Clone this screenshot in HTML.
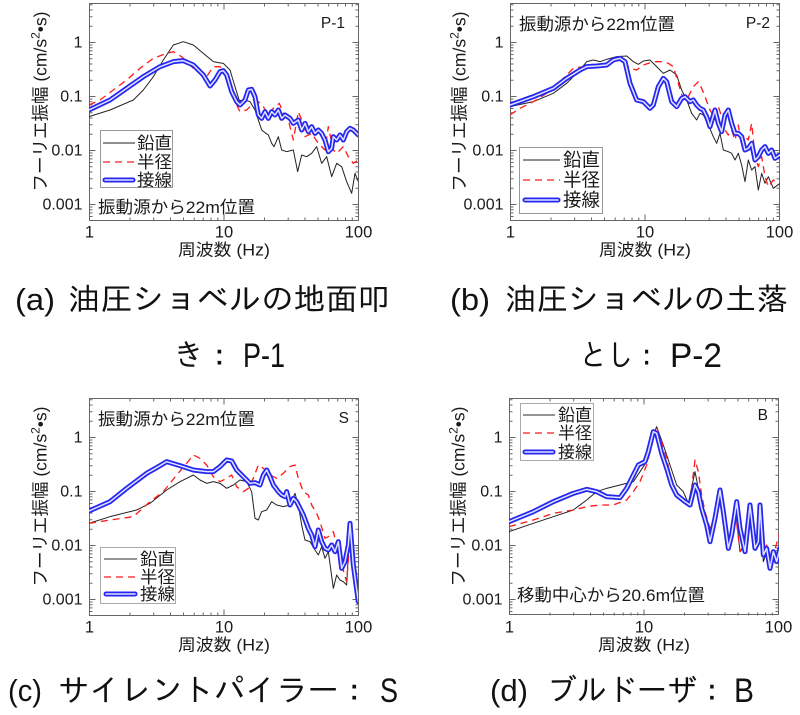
<!DOCTYPE html>
<html><head><meta charset="utf-8"><style>
html,body{margin:0;padding:0;background:#fff;}
svg{display:block;}
</style></head><body>
<svg width="800" height="715" viewBox="0 0 800 715" xmlns="http://www.w3.org/2000/svg">
<defs>
<path id="tk" fill="none" stroke="#666" stroke-width="1" d="M0 201h6M0 147h6M0 93h6M0 39h6M0 213h3M0 209.4h3M0 206.2h3M0 203.5h3M0 184.7h3M0 175.2h3M0 168.5h3M0 163.3h3M0 159h3M0 155.4h3M0 152.2h3M0 149.5h3M0 130.7h3M0 121.2h3M0 114.5h3M0 109.3h3M0 105h3M0 101.4h3M0 98.2h3M0 95.5h3M0 76.7h3M0 67.2h3M0 60.5h3M0 55.3h3M0 51h3M0 47.4h3M0 44.2h3M0 41.5h3M0 22.7h3M0 13.2h3M0 6.5h3M0 1.3h3
M269 201h-6M269 147h-6M269 93h-6M269 39h-6M269 213h-3M269 209.4h-3M269 206.2h-3M269 203.5h-3M269 184.7h-3M269 175.2h-3M269 168.5h-3M269 163.3h-3M269 159h-3M269 155.4h-3M269 152.2h-3M269 149.5h-3M269 130.7h-3M269 121.2h-3M269 114.5h-3M269 109.3h-3M269 105h-3M269 101.4h-3M269 98.2h-3M269 95.5h-3M269 76.7h-3M269 67.2h-3M269 60.5h-3M269 55.3h-3M269 51h-3M269 47.4h-3M269 44.2h-3M269 41.5h-3M269 22.7h-3M269 13.2h-3M269 6.5h-3M269 1.3h-3
M134.5 217v-6M40.5 217v-3M64.2 217v-3M81 217v-3M94 217v-3M104.7 217v-3M113.7 217v-3M121.5 217v-3M128.3 217v-3M175 217v-3M198.7 217v-3M215.5 217v-3M228.5 217v-3M239.2 217v-3M248.2 217v-3M256 217v-3M262.8 217v-3
M134.5 0v6M40.5 0v3M64.2 0v3M81 0v3M94 0v3M104.7 0v3M113.7 0v3M121.5 0v3M128.3 0v3M175 0v3M198.7 0v3M215.5 0v3M228.5 0v3M239.2 0v3M248.2 0v3M256 0v3M262.8 0v3"/>
<clipPath id="c1"><rect x="89" y="3" width="269" height="217"/></clipPath>
<clipPath id="c2"><rect x="510" y="3" width="270" height="217"/></clipPath>
<clipPath id="c3"><rect x="89" y="398" width="269" height="217"/></clipPath>
<clipPath id="c4"><rect x="509" y="398" width="270" height="216"/></clipPath>
<polyline id="b1" points="267,330 330,300 380,265 430,230 480,200 520,185 550,182 580,195 610,225 630,258 645,240 660,215 670,212 680,225 695,275 710,305 720,315 735,300 745,270 755,268 765,290 775,345 785,355 795,335 805,355 815,335 825,345 835,330 845,355 855,345 870,355 880,370 895,360 905,390 915,370 925,395 935,380 945,400 955,390 965,400 975,420 985,455 995,445 1000,410 1010,420 1020,405 1030,420 1040,395 1050,385 1060,390 1075,405"/>
<polyline id="b2" points="330,315 400,290 460,265 500,235 540,210 560,200 590,198 620,195 640,180 660,175 675,185 690,250 710,300 730,305 750,325 760,315 775,260 790,235 800,245 815,305 830,320 845,295 855,290 870,305 880,300 890,315 900,325 910,330 920,350 930,380 945,330 955,370 965,395 975,345 985,330 995,370 1005,400 1015,400 1025,410 1035,450 1045,445 1055,430 1065,480 1075,470 1085,450 1095,440 1105,460 1115,450 1125,475 1140,465"/>
<polyline id="b3" points="267,348 330,320 380,280 440,235 480,212 500,200 540,212 580,225 620,230 640,230 660,215 680,195 695,198 710,225 730,245 750,265 765,263 780,270 790,240 800,225 810,245 820,270 835,290 845,300 855,305 860,290 870,330 880,310 890,320 900,340 910,360 925,400 935,420 945,455 955,405 965,440 975,460 985,465 995,450 1005,470 1015,440 1025,520 1035,500 1045,450 1050,385 1060,510 1075,620"/>
<polyline id="b4" points="327,380 400,350 460,320 520,295 560,283 590,290 620,305 660,308 680,280 700,240 715,210 735,200 745,170 760,110 770,115 785,175 800,220 815,270 830,300 855,320 870,330 885,270 895,290 905,340 920,390 930,440 945,370 960,285 970,350 985,460 995,420 1010,320 1020,400 1035,470 1050,330 1065,460 1075,440 1080,330 1090,480 1100,460 1110,520 1120,470 1130,500 1140,460"/>
</defs>

<g font-family="'Liberation Sans','Noto Sans CJK JP',sans-serif" fill="#1a1a1a">

<!-- ===== Panel 1 frame ===== -->
<g transform="translate(89.5,3.5)">
<rect x="0" y="0" width="269" height="217" fill="none" stroke="#666" stroke-width="1"/>
<use href="#tk"/>
<g font-size="16" text-anchor="end">
<text x="-7" y="44">1</text><text x="-7" y="98">0.1</text><text x="-7" y="152">0.01</text><text x="-7" y="206">0.001</text>
</g>
<g font-size="16.5" text-anchor="middle">
<text x="0" y="234">1</text><text x="134.5" y="234">10</text><text x="269" y="234">100</text>
<text x="134.5" y="252" textLength="92" lengthAdjust="spacingAndGlyphs">周波数 (Hz)</text>
</g>
<text font-size="17.5" text-anchor="middle" transform="translate(-43,98) rotate(-90)">フーリエ振幅 (cm/s<tspan font-size="12" dy="-7">2</tspan><tspan dy="7">•s)</tspan></text>
</g>
<!-- ===== Panel 2 frame ===== -->
<g transform="translate(510.5,3.5)">
<rect x="0" y="0" width="269" height="217" fill="none" stroke="#666" stroke-width="1"/>
<use href="#tk"/>
<g font-size="16" text-anchor="end">
<text x="-7" y="44">1</text><text x="-7" y="98">0.1</text><text x="-7" y="152">0.01</text><text x="-7" y="206">0.001</text>
</g>
<g font-size="16.5" text-anchor="middle">
<text x="0" y="234">1</text><text x="134.5" y="234">10</text><text x="269" y="234">100</text>
<text x="134.5" y="252" textLength="92" lengthAdjust="spacingAndGlyphs">周波数 (Hz)</text>
</g>
<text font-size="17.5" text-anchor="middle" transform="translate(-45,98) rotate(-90)">フーリエ振幅 (cm/s<tspan font-size="12" dy="-7">2</tspan><tspan dy="7">•s)</tspan></text>
</g>
<!-- ===== Panel 3 frame ===== -->
<g transform="translate(89.5,398.5)">
<rect x="0" y="0" width="269" height="217" fill="none" stroke="#666" stroke-width="1"/>
<use href="#tk"/>
<g font-size="16" text-anchor="end">
<text x="-7" y="44">1</text><text x="-7" y="98">0.1</text><text x="-7" y="152">0.01</text><text x="-7" y="206">0.001</text>
</g>
<g font-size="16.5" text-anchor="middle">
<text x="0" y="234">1</text><text x="134.5" y="234">10</text><text x="269" y="234">100</text>
<text x="134.5" y="252" textLength="92" lengthAdjust="spacingAndGlyphs">周波数 (Hz)</text>
</g>
<text font-size="17.5" text-anchor="middle" transform="translate(-43,98) rotate(-90)">フーリエ振幅 (cm/s<tspan font-size="12" dy="-7">2</tspan><tspan dy="7">•s)</tspan></text>
</g>
<!-- ===== Panel 4 frame ===== -->
<g transform="translate(509.5,398.5)">
<rect x="0" y="0" width="269" height="216" fill="none" stroke="#666" stroke-width="1"/>
<use href="#tk"/>
<g font-size="16" text-anchor="end">
<text x="-7" y="44">1</text><text x="-7" y="98">0.1</text><text x="-7" y="152">0.01</text><text x="-7" y="206">0.001</text>
</g>
<g font-size="16.5" text-anchor="middle">
<text x="0" y="234">1</text><text x="134.5" y="234">10</text><text x="269" y="234">100</text>
<text x="134.5" y="252" textLength="92" lengthAdjust="spacingAndGlyphs">周波数 (Hz)</text>
</g>
<text font-size="17.5" text-anchor="middle" transform="translate(-45,98) rotate(-90)">フーリエ振幅 (cm/s<tspan font-size="12" dy="-7">2</tspan><tspan dy="7">•s)</tspan></text>
</g>

<!-- ===== Panel 1 curves ===== -->
<g clip-path="url(#c1)"><g transform="scale(0.33333)" fill="none" stroke-linejoin="round" stroke-linecap="round">
<polyline stroke="#222" stroke-width="3" points="267,350 330,330 400,300 430,270 460,230 490,180 520,135 550,125 580,135 610,160 640,185 655,188 670,190 690,210 705,260 718,302 735,300 750,305 765,330 775,360 785,390 795,398 805,405 815,430 822,440 835,410 845,450 860,455 880,450 893,515 905,465 920,470 935,460 950,440 965,490 980,470 995,530 1010,490 1025,500 1040,545 1055,580 1065,520 1075,545"/>
<polyline stroke="#ff1a1a" stroke-width="4" stroke-dasharray="21 15" stroke-linecap="butt" points="267,315 300,300 340,270 380,240 420,205 460,175 500,160 520,155 545,170 565,190 580,205 600,215 620,230 640,200 660,200 675,215 690,260 710,315 720,335 740,330 760,310 775,305 790,320 805,345 820,325 838,310 850,340 865,360 880,420 895,335 905,360 915,410 935,400 955,430 975,450 985,380 1000,450 1010,460 1030,440 1045,470 1060,490 1075,480"/>
<use href="#b1" stroke="#2626f0" stroke-width="15"/>
<use href="#b1" stroke="#dfe4ff" stroke-width="4.5"/>
</g></g>

<!-- ===== Panel 2 curves ===== -->
<g clip-path="url(#c2)"><g transform="translate(400,0) scale(0.33333)" fill="none" stroke-linejoin="round" stroke-linecap="round">
<polyline stroke="#222" stroke-width="3" points="330,320 400,305 460,280 500,250 540,210 560,185 580,180 600,185 620,178 650,170 680,168 700,185 715,193 730,183 750,180 770,200 790,220 810,210 830,225 845,270 860,300 875,340 890,360 900,340 910,345 925,375 940,410 950,430 960,400 970,450 985,455 995,460 1005,480 1015,460 1025,495 1035,545 1045,480 1055,510 1065,500 1075,570 1085,520 1095,550 1105,530 1120,565 1140,550"/>
<polyline stroke="#ff1a1a" stroke-width="4" stroke-dasharray="21 15" stroke-linecap="butt" points="330,345 360,325 400,305 440,280 480,245 520,205 550,200 570,195 600,200 620,190 650,180 670,185 690,205 710,210 730,195 760,185 790,185 805,190 820,200 835,250 850,300 865,290 880,260 895,245 905,265 915,290 930,330 945,355 955,320 965,350 975,390 985,405 995,390 1005,420 1015,375 1025,440 1035,410 1045,420 1055,370 1065,470 1075,500 1085,470 1095,530 1105,560 1120,540 1140,550"/>
<use href="#b2" stroke="#2626f0" stroke-width="15"/>
<use href="#b2" stroke="#dfe4ff" stroke-width="4.5"/>
</g></g>

<!-- ===== Panel 3 curves ===== -->
<g clip-path="url(#c3)"><g transform="translate(0,395) scale(0.33333)" fill="none" stroke-linejoin="round" stroke-linecap="round">
<polyline stroke="#222" stroke-width="3" points="267,385 330,365 410,345 450,325 500,285 540,260 580,240 600,255 620,265 640,260 660,265 680,280 700,270 720,255 740,260 755,290 765,370 775,375 785,350 800,345 815,320 830,330 850,335 870,330 885,295 895,330 905,390 915,435 930,440 945,465 955,480 965,455 975,490 985,470 1000,580 1010,540 1020,555 1030,560 1040,570 1050,390 1060,520 1075,625"/>
<polyline stroke="#ff1a1a" stroke-width="4" stroke-dasharray="21 15" stroke-linecap="butt" points="267,385 330,375 400,365 450,320 490,290 530,240 560,205 580,180 600,190 620,210 640,245 660,260 680,250 695,240 710,275 730,290 745,280 760,250 775,210 790,220 810,240 830,250 850,235 870,215 885,210 895,250 910,290 925,300 935,330 950,355 960,380 975,430 985,425 1000,410 1010,450 1025,510 1040,560 1050,430 1060,510 1075,630"/>
<use href="#b3" stroke="#2626f0" stroke-width="15"/>
<use href="#b3" stroke="#dfe4ff" stroke-width="4.5"/>
</g></g>

<!-- ===== Panel 4 curves ===== -->
<g clip-path="url(#c4)"><g transform="translate(400,395) scale(0.33333)" fill="none" stroke-linejoin="round" stroke-linecap="round">
<polyline stroke="#222" stroke-width="3" points="327,410 400,385 460,365 520,345 560,315 590,290 620,280 660,270 700,260 720,230 740,200 755,130 770,95 790,150 810,210 830,270 850,290 865,325 885,230 895,280 905,350 920,400 930,430 945,360 955,295 965,340 980,460 990,450 1005,330 1020,470 1040,440 1050,340 1060,460 1075,410 1080,330 1090,500 1100,470 1110,520 1120,470 1130,500 1140,480"/>
<polyline stroke="#ff1a1a" stroke-width="4" stroke-dasharray="21 15" stroke-linecap="butt" points="327,395 400,375 460,355 520,345 560,335 600,330 640,330 680,315 700,290 720,260 740,210 755,150 770,95 785,140 800,190 815,260 830,300 850,320 870,320 885,195 895,230 905,300 915,350 930,400 945,360 955,290 965,320 985,440 995,430 1005,340 1020,470 1040,450 1050,330 1065,450 1075,440 1080,330 1090,480 1100,450 1110,500 1120,480 1140,410"/>
<use href="#b4" stroke="#2626f0" stroke-width="15"/>
<use href="#b4" stroke="#dfe4ff" stroke-width="4.5"/>
</g></g>

<!-- ===== Annotations ===== -->
<text x="345" y="28" font-size="15.5" text-anchor="end">P-1</text>
<text x="98" y="213" font-size="17" textLength="157" lengthAdjust="spacingAndGlyphs">振動源から22m位置</text>
<text x="519" y="30" font-size="17" textLength="156" lengthAdjust="spacingAndGlyphs">振動源から22m位置</text>
<text x="770" y="28" font-size="15.5" text-anchor="end">P-2</text>
<text x="98" y="425" font-size="17" textLength="157" lengthAdjust="spacingAndGlyphs">振動源から22m位置</text>
<text x="349" y="423" font-size="15.5" text-anchor="end">S</text>
<text x="768" y="420" font-size="15.5" text-anchor="end">B</text>
<text x="517" y="601" font-size="17" textLength="188" lengthAdjust="spacingAndGlyphs">移動中心から20.6m位置</text>

<!-- ===== Legends ===== -->
<g>
<rect x="100.5" y="130.5" width="72" height="57" fill="#fff" stroke="#999"/>
<line x1="103" y1="143" x2="135" y2="143" stroke="#222" stroke-width="1"/>
<line x1="103" y1="162" x2="135" y2="162" stroke="#ff1a1a" stroke-width="1.3" stroke-dasharray="7 5"/>
<line x1="105" y1="180" x2="133" y2="180" stroke="#2626f0" stroke-width="5" stroke-linecap="round"/>
<line x1="105" y1="180" x2="133" y2="180" stroke="#dfe4ff" stroke-width="1.5" stroke-linecap="round"/>
<g font-size="17"><text x="137" y="149" textLength="35" lengthAdjust="spacingAndGlyphs">鉛直</text><text x="137" y="168" textLength="35" lengthAdjust="spacingAndGlyphs">半径</text><text x="137" y="186" textLength="35" lengthAdjust="spacingAndGlyphs">接線</text></g>
</g>
<g>
<rect x="519.5" y="147.5" width="83" height="66" fill="#fff" stroke="#999"/>
<line x1="523" y1="160" x2="560" y2="160" stroke="#222" stroke-width="1"/>
<line x1="523" y1="180" x2="560" y2="180" stroke="#ff1a1a" stroke-width="1.3" stroke-dasharray="7 5"/>
<line x1="525" y1="200" x2="558" y2="200" stroke="#2626f0" stroke-width="5" stroke-linecap="round"/>
<line x1="525" y1="200" x2="558" y2="200" stroke="#dfe4ff" stroke-width="1.5" stroke-linecap="round"/>
<g font-size="18.5"><text x="563" y="166.5" textLength="37" lengthAdjust="spacingAndGlyphs">鉛直</text><text x="563" y="186.5" textLength="37" lengthAdjust="spacingAndGlyphs">半径</text><text x="563" y="206.5" textLength="37" lengthAdjust="spacingAndGlyphs">接線</text></g>
</g>
<g>
<rect x="100.5" y="547.5" width="75" height="56" fill="#fff" stroke="#aaa"/>
<line x1="104" y1="559" x2="137" y2="559" stroke="#555" stroke-width="1.2"/>
<line x1="104" y1="577" x2="137" y2="577" stroke="#ff1a1a" stroke-width="1.3" stroke-dasharray="7 5"/>
<line x1="106" y1="594" x2="135" y2="594" stroke="#2626f0" stroke-width="5" stroke-linecap="round"/>
<line x1="106" y1="594" x2="135" y2="594" stroke="#dfe4ff" stroke-width="1.5" stroke-linecap="round"/>
<g font-size="17"><text x="140" y="565" textLength="35" lengthAdjust="spacingAndGlyphs">鉛直</text><text x="140" y="583" textLength="35" lengthAdjust="spacingAndGlyphs">半径</text><text x="140" y="600" textLength="35" lengthAdjust="spacingAndGlyphs">接線</text></g>
</g>
<g>
<rect x="520.5" y="403.5" width="73" height="57" fill="#fff" stroke="#aaa"/>
<line x1="523" y1="415" x2="555" y2="415" stroke="#555" stroke-width="1.2"/>
<line x1="523" y1="433" x2="555" y2="433" stroke="#ff1a1a" stroke-width="1.3" stroke-dasharray="7 5"/>
<line x1="525" y1="452" x2="553" y2="452" stroke="#2626f0" stroke-width="5" stroke-linecap="round"/>
<line x1="525" y1="452" x2="553" y2="452" stroke="#dfe4ff" stroke-width="1.5" stroke-linecap="round"/>
<g font-size="17"><text x="558" y="421" textLength="34" lengthAdjust="spacingAndGlyphs">鉛直</text><text x="558" y="439" textLength="34" lengthAdjust="spacingAndGlyphs">半径</text><text x="558" y="458" textLength="34" lengthAdjust="spacingAndGlyphs">接線</text></g>
</g>
</g>

<!-- ===== Captions ===== -->
<g font-family="'Liberation Sans','IPAGothic','Noto Sans CJK JP',sans-serif" fill="#111" font-size="31">
<text x="15" y="310" textLength="40" lengthAdjust="spacingAndGlyphs">(a)</text>
<text x="68" y="310" textLength="322" lengthAdjust="spacingAndGlyphs">油圧ショベルの地面叩</text>
<text x="173" y="366" textLength="62" lengthAdjust="spacingAndGlyphs">き：</text>
<text x="243" y="367" font-size="34" textLength="42" lengthAdjust="spacingAndGlyphs">P-1</text>

<text x="450" y="310" textLength="40" lengthAdjust="spacingAndGlyphs">(b)</text>
<text x="505" y="310" textLength="283" lengthAdjust="spacingAndGlyphs">油圧ショベルの土落</text>
<text x="580" y="366" textLength="80" lengthAdjust="spacingAndGlyphs">とし：</text>
<text x="670" y="367" font-size="34" textLength="52" lengthAdjust="spacingAndGlyphs">P-2</text>

<text x="8" y="701" textLength="34" lengthAdjust="spacingAndGlyphs">(c)</text>
<text x="58" y="701" textLength="312" lengthAdjust="spacingAndGlyphs">サイレントパイラー：</text>
<text x="380" y="702" font-size="34" textLength="18" lengthAdjust="spacingAndGlyphs">S</text>

<text x="490" y="701" textLength="38" lengthAdjust="spacingAndGlyphs">(d)</text>
<text x="547" y="701" textLength="180" lengthAdjust="spacingAndGlyphs">ブルドーザ：</text>
<text x="734" y="702" font-size="34" textLength="20" lengthAdjust="spacingAndGlyphs">B</text>
</g>
</svg>
</body></html>
